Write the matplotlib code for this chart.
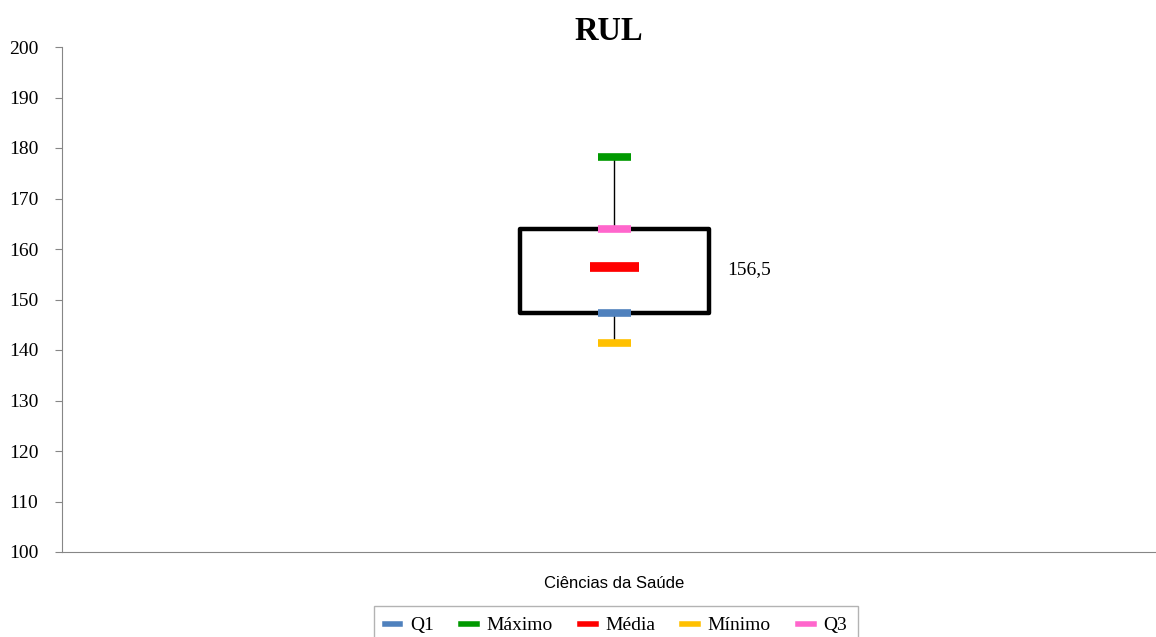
import matplotlib.pyplot as plt
from matplotlib.patches import Rectangle
from matplotlib.lines import Line2D

categories = ['Ciências da Saúde']
q1 = [147.3]
q3 = [164.0]
maximo = [178.2]
minimo = [141.3]
media = [156.5]
media_label = ['156,5']

serif = 'Liberation Serif'
sans = 'Liberation Sans'

fig = plt.figure(figsize=(11.56, 6.37), dpi=100)
ax = fig.add_axes([62/1156, 1-552/637, 1-62/1156, (552-47)/637])

for i, cat in enumerate(categories):
    # box from Q1 to Q3
    ax.add_patch(Rectangle((i-0.086, q1[i]), 0.172, q3[i]-q1[i], fill=False,
                           edgecolor='black', linewidth=3.2, joinstyle='round', zorder=2))
    # whiskers
    ax.vlines(i, q3[i], maximo[i], color='black', linewidth=1, zorder=1)
    ax.vlines(i, minimo[i], q1[i], color='black', linewidth=1, zorder=1)
    # markers
    ax.hlines(q1[i], i-0.015, i+0.015, color='#4f81bd', linewidth=5.5, zorder=3)
    ax.hlines(maximo[i], i-0.015, i+0.015, color='#009900', linewidth=5.5, zorder=3)
    ax.hlines(media[i], i-0.022, i+0.022, color='#ff0000', linewidth=7, zorder=3)
    ax.hlines(minimo[i], i-0.015, i+0.015, color='#ffc000', linewidth=5.5, zorder=3)
    ax.hlines(q3[i], i-0.015, i+0.015, color='#ff66cc', linewidth=5.5, zorder=3)
    ax.text(i+0.103, media[i]-0.5, media_label[i], fontsize=14, family=serif, va='center', ha='left')

ax.set_xlim(-0.505, 0.495)
ax.set_ylim(100, 200)
ax.set_yticks(range(100, 201, 10))
ax.set_xticks(range(len(categories)))
ax.set_xticklabels(categories, family=sans, fontsize=12)
ax.tick_params(axis='x', length=0, pad=17)
ax.tick_params(axis='y', length=5, color='#868686', labelsize=14, pad=12)
for lab in ax.get_yticklabels():
    lab.set_family(serif)
for s in ['top', 'right']:
    ax.spines[s].set_visible(False)
for s in ['left', 'bottom']:
    ax.spines[s].set_color('#868686')

ax.set_title('RUL', fontsize=23.5, fontweight='bold', family=serif, pad=2)

handles = [Line2D([], [], color=c, linewidth=4) for c in ['#4f81bd', '#009900', '#ff0000', '#ffc000', '#ff66cc']]
leg = fig.legend(handles, ['Q1', 'Máximo', 'Média', 'Mínimo', 'Q3'], loc='upper center',
                 bbox_to_anchor=(616/1156, 1-606/637), borderaxespad=0, ncol=5, frameon=True,
                 fancybox=False, prop={'family': serif, 'size': 14}, handlelength=0.8,
                 handletextpad=0.5, columnspacing=1.4, borderpad=0.55, edgecolor='#a0a0a0')

fig.savefig('out.png', dpi=100)
